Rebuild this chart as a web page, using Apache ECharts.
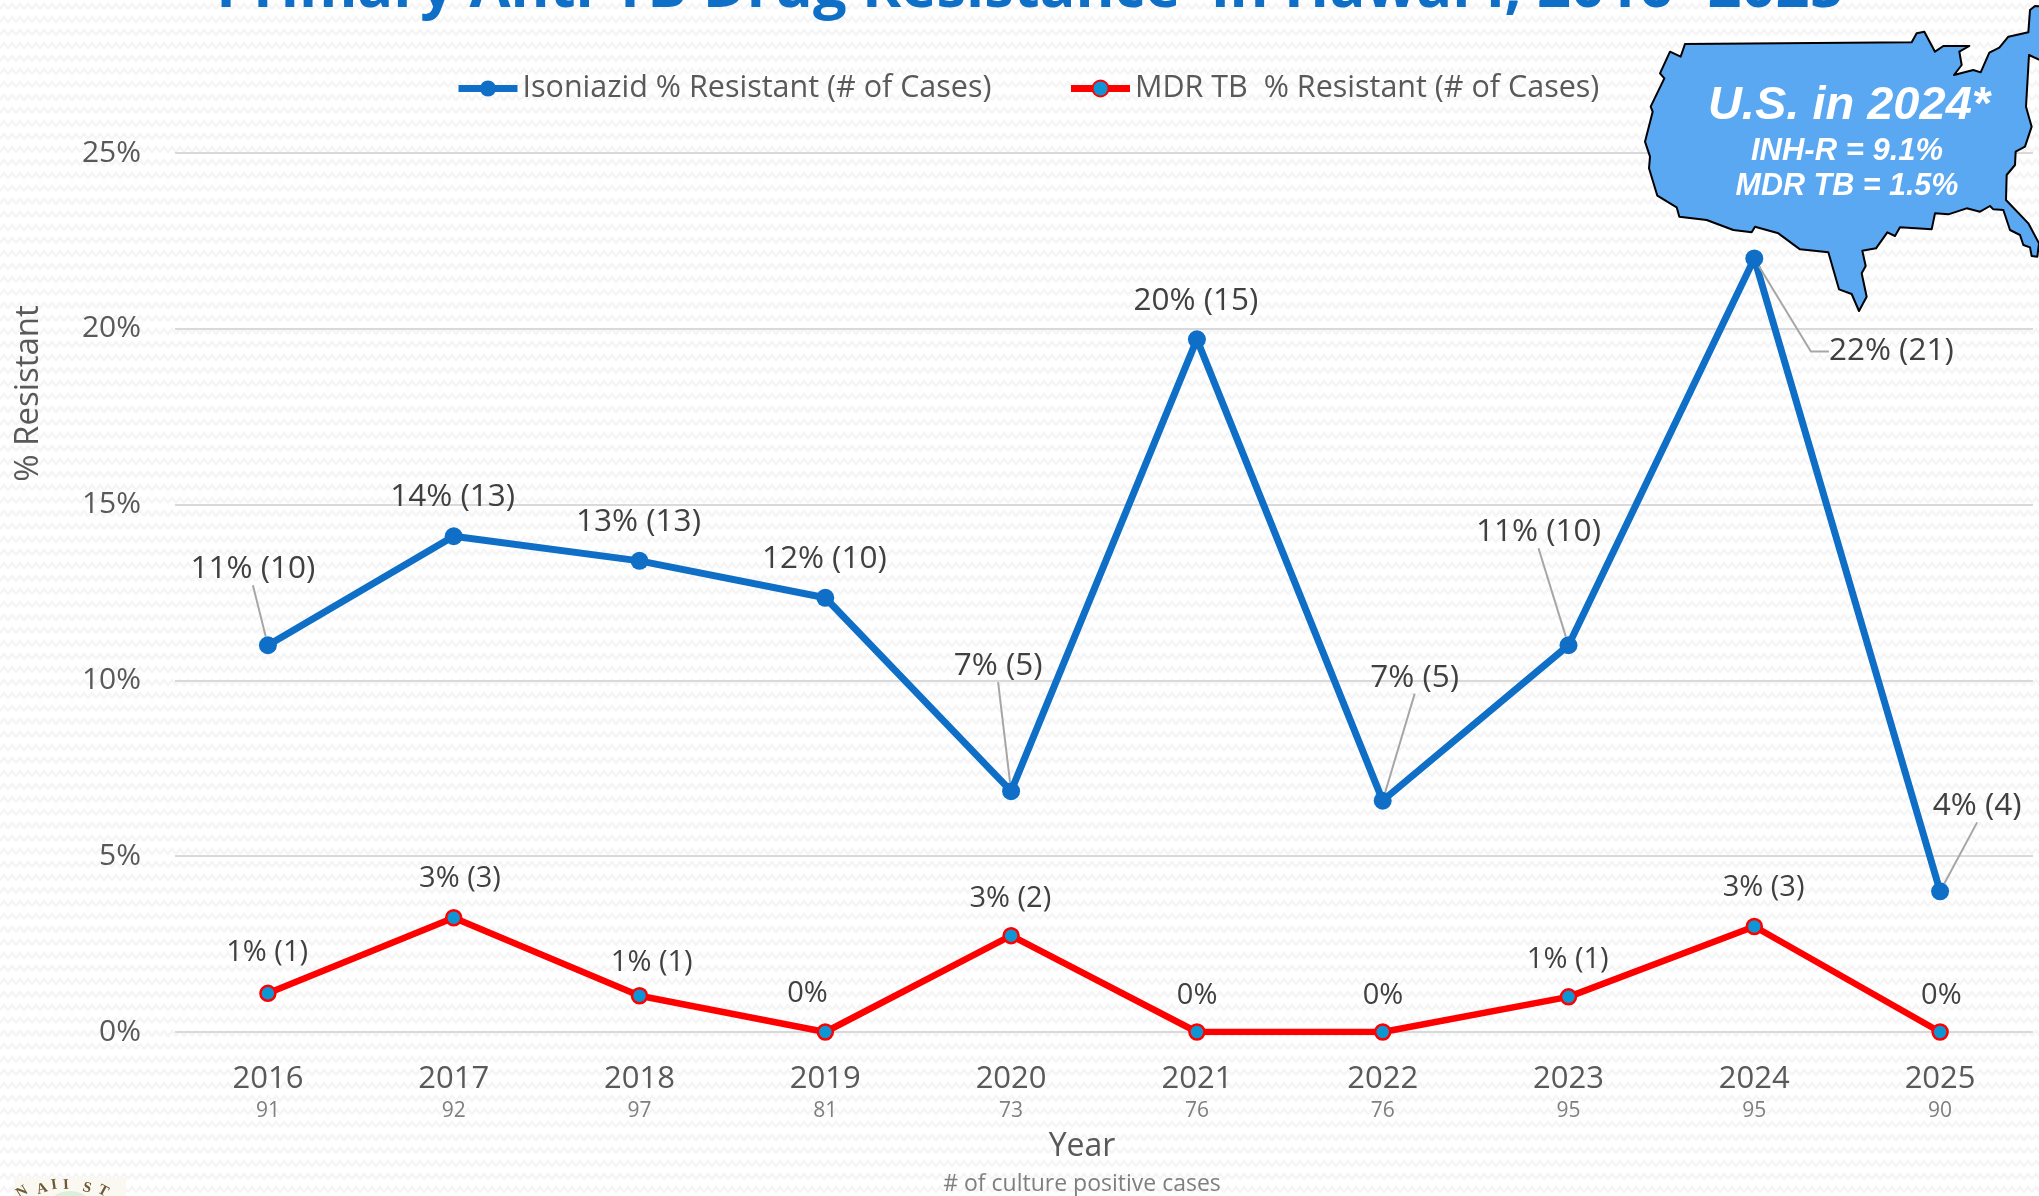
<!DOCTYPE html>
<html><head><meta charset="utf-8">
<style>
html,body{margin:0;padding:0;width:2039px;height:1196px;overflow:hidden;background-color:#fff;
background-image:url("data:image/svg+xml,%3Csvg xmlns='http://www.w3.org/2000/svg' width='16' height='13'%3E%3Cpath d='M0 9 L4 4 L8 9 L12 4 L16 9' fill='none' stroke='%23f5f5f5' stroke-width='2.4'/%3E%3C/svg%3E");}
#c{width:2039px;height:1196px}
</style>
<script src="https://cdn.jsdelivr.net/npm/echarts@6/dist/echarts.min.js"></script>
</head><body><div id="c"></div>
<script>
const years=['2016','2017','2018','2019','2020','2021','2022','2023','2024','2025'];
const cultureCounts=[91,92,97,81,73,76,76,95,95,90];
const isoniazid=[11.0,14.1,13.4,12.35,6.85,19.7,6.58,11.0,22.0,4.0];
const mdr=[1.1,3.25,1.03,0,2.74,0,0,1.0,3.0,0];
const isoLabels=['11% (10)','14% (13)','13% (13)','12% (10)','7% (5)','20% (15)','7% (5)','11% (10)','22% (21)','4% (4)'];
const mdrLabels=['1% (1)','3% (3)','1% (1)','0%','3% (2)','0%','0%','1% (1)','3% (3)','0%'];
const isoOffsets=[[-6,-67],[8,-30],[8,-30],[8,-30],[-4,-116],[8,-29],[41,-114],[-21,-104],[146,102],[46,-76]];
const mdrOffsets=[[8,-32],[15,-30],[21,-24],[-9,-30],[8,-28],[9,-28],[9,-28],[8,-28],[18,-30],[10,-28]];
const isoLeaders=[0,4,6,7,8,9];
const elbowLeader=8;
const FONT='"Open Sans"';
const usShape=[[165,132],[845,127],[860,100],[883,95],[915,155],[940,138],[1018,138],[988,155],[995,195],[972,225],[1030,210],[1052,217],[1078,158],[1108,143],[1135,110],[1195,97],[1200,30],[1215,18],[1240,20],[1240,185],[1197,165],[1188,320],[1205,380],[1185,440],[1157,455],[1155,495],[1130,525],[1128,600],[1195,670],[1227,730],[1222,770],[1205,768],[1200,742],[1180,735],[1170,705],[1140,690],[1120,630],[1090,628],[1080,618],[1050,635],[1010,625],[955,643],[915,640],[905,688],[810,682],[795,708],[772,697],[738,745],[697,752],[707,798],[695,820],[710,890],[687,933],[665,882],[627,868],[595,757],[510,748],[445,700],[375,680],[365,697],[310,690],[230,660],[148,650],[140,622],[82,587],[57,505],[60,470],[45,425],[68,335],[62,320],[103,235],[90,220],[120,155],[152,170]];
const sealLetters=[['N',22,1192,0.55],['A',42,1189,0.3],['I',54,1185,0.15],['I',66,1185,0.05],['S',87,1188,-0.25],['T',103,1191,-0.5]];
const chart=echarts.init(document.getElementById('c'),null,{renderer:'canvas'});
chart.setOption({
 backgroundColor:'transparent',
 animation:false,
 title:{text:"Primary Anti-TB Drug Resistance  in Hawai'i, 2016- 2025",left:1025,textAlign:'center',top:-45,
  textStyle:{fontFamily:FONT,fontSize:59.5,fontWeight:'bold',color:'#0F6FC6'}},
 legend:{left:450,top:68,itemWidth:59,itemHeight:20,itemGap:76,
  lineStyle:{width:7},
  textStyle:{fontFamily:FONT,fontSize:30.5,color:'#595959'},
  data:['Isoniazid % Resistant (# of Cases)','MDR TB  % Resistant (# of Cases)']},
 grid:{left:175,right:6,top:153,bottom:164,containLabel:false},
 xAxis:{type:'category',data:years,boundaryGap:true,
  axisLine:{show:false},axisTick:{show:false},
  axisLabel:{margin:27,interval:0,formatter:(v,i)=>`{y|${v}}\n{n|${cultureCounts[i]}}`,
   rich:{y:{fontFamily:FONT,fontSize:31,color:'#595959',lineHeight:40},n:{fontFamily:FONT,fontSize:21,color:'#7f7f7f',lineHeight:24}}},
  name:'Year',nameLocation:'middle',nameGap:99,
  nameTextStyle:{fontFamily:FONT,fontSize:32,color:'#595959',padding:[0,44,0,0]}},
 yAxis:{type:'value',min:0,max:25,interval:5,
  axisLine:{show:false},axisTick:{show:false},
  axisLabel:{margin:34,formatter:'{value}%',fontFamily:FONT,fontSize:30,color:'#595959',padding:[3,0,0,0]},
  splitLine:{lineStyle:{color:'#d9d9d9',width:2}},
  name:'% Resistant',nameLocation:'middle',nameGap:130,
  nameTextStyle:{fontFamily:FONT,fontSize:33,color:'#595959',padding:[0,0,0,398]}},
 series:[
  {name:'Isoniazid % Resistant (# of Cases)',type:'line',z:3,
   data:isoniazid.map((v,i)=>({value:v,labelLine:{show:isoLeaders.includes(i),length2:i===elbowLeader?18:0}})),
   symbol:'circle',symbolSize:18,lineStyle:{color:'#0F6FC6',width:7},itemStyle:{color:'#0F6FC6'},
   label:{show:true,position:[0,0],align:'center',verticalAlign:'middle',fontFamily:FONT,fontSize:31.5,color:'#404040',
    formatter:p=>isoLabels[p.dataIndex]},
   labelLine:{show:false,lineStyle:{color:'#a6a6a6',width:2}},
   labelLayout:p=>({dx:isoOffsets[p.dataIndex][0],dy:isoOffsets[p.dataIndex][1]})},
  {name:'MDR TB  % Resistant (# of Cases)',type:'line',z:3,
   data:mdr,symbol:'circle',symbolSize:15,
   lineStyle:{color:'#FF0000',width:6.5},itemStyle:{color:'#0E96D4',borderColor:'#FF0000',borderWidth:2.5},
   label:{show:true,position:[0,0],align:'center',verticalAlign:'middle',fontFamily:FONT,fontSize:29,color:'#404040',
    formatter:p=>mdrLabels[p.dataIndex]},
   labelLayout:p=>({dx:mdrOffsets[p.dataIndex][0],dy:mdrOffsets[p.dataIndex][1]})}
 ],
 graphic:[
  {type:'polygon',z:10,shape:{points:usShape.map(([x,y])=>[1630+x/3,y/3])},style:{fill:'#5AA7F2',stroke:'#000',lineWidth:2,lineJoin:'round'}},
  {type:'text',z:11,x:1849,y:106,style:{text:'U.S. in 2024*',font:'italic bold 47px "Liberation Sans"',fill:'#fff',align:'center',verticalAlign:'middle'}},
  {type:'text',z:11,x:1847,y:151,style:{text:'INH-R = 9.1%',font:'italic bold 31px "Liberation Sans"',fill:'#fff',align:'center',verticalAlign:'middle'}},
  {type:'text',z:11,x:1847,y:187,style:{text:'MDR TB = 1.5%',font:'italic bold 30.5px "Liberation Sans"',fill:'#fff',align:'center',verticalAlign:'middle'}},
  {type:'text',z:5,x:1082,y:1184,style:{text:'# of culture positive cases',font:'23px "Open Sans"',fill:'#7f7f7f',align:'center',verticalAlign:'middle'}},
  {type:'rect',z:4,shape:{x:14,y:1178,width:112,height:20},style:{fill:'#fbf8f2'}},
  {type:'circle',z:4,shape:{cx:70,cy:1218,r:27},style:{fill:'#dcefd9'}},
  ...sealLetters.map(([t,x,y,r])=>({type:'text',z:5,x,y,rotation:r,style:{text:t,font:'bold 15px "Liberation Serif"',fill:'#6b5a35',align:'center',verticalAlign:'middle'}}))
 ]
});
</script></body></html>
